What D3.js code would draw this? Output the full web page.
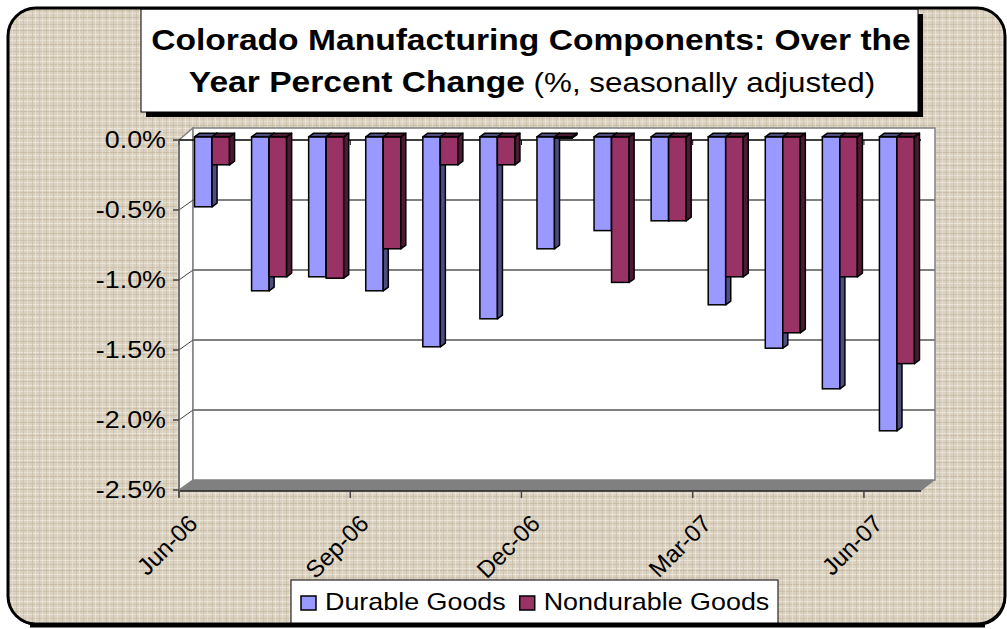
<!DOCTYPE html>
<html>
<head>
<meta charset="utf-8">
<script src="https://cdn.jsdelivr.net/npm/d3@7"></script>
<style>
body{margin:0;background:#fff;}
text{font-family:Arial,"Liberation Sans",sans-serif;}
</style>
</head>
<body>
<div id="svgContainer"></div>
<script>
// data (percent change over the year)
var months = ["Jun-06","Jul-06","Aug-06","Sep-06","Oct-06","Nov-06","Dec-06","Jan-07","Feb-07","Mar-07","Apr-07","May-07","Jun-07"];
var durable = [-0.5,-1.1,-1.0,-1.1,-1.5,-1.3,-0.8,-0.67,-0.6,-1.2,-1.51,-1.8,-2.1];
var nondurable = [-0.2,-1.0,-1.01,-0.8,-0.2,-0.2,-0.01,-1.04,-0.6,-1.0,-1.4,-1.0,-1.62];
var seriesNames = ["Durable Goods","Nondurable Goods"];
var yTicks = [0,-0.5,-1,-1.5,-2,-2.5];
var xTickLabels = ["Jun-06","Sep-06","Dec-06","Mar-07","Jun-07"];

var svgWidth = 1007, svgHeight = 629;
var svg = d3.select("#svgContainer").append("svg")
    .attr("width",svgWidth)
    .attr("height",svgHeight);

var plot = {left:179,right:921,top:140,bottom:490};
var depth = {dx:14,dy:-10};        // front plane -> back wall
var barZ = [0.32,0.68];             // bars sit in the middle of the depth
var front = ["#9999ff","#993366"];
var side = ["#4d4d80","#4d1a33"];
var sx = 1.12;                      // the original text is a bit wide

// linen background
var defs = svg.append("defs");
var pat = defs.append("pattern")
    .attr("id","linen")
    .attr("patternUnits","userSpaceOnUse")
    .attr("width",30).attr("height",27);
pat.append("rect").attr("width",30).attr("height",27).attr("fill","#dad1c0");
var hl = [[1,"#efeadf"],[3,"#c4b8a2"],[7,"#f1ede3"],[10,"#c7bca6"],[13,"#ebe5d8"],[17,"#c2b6a0"],[20,"#eee9de"],[24,"#c9beaa"]];
var vl = [[2,"#c3b7a1"],[5,"#f0ebe1"],[9,"#c8bda8"],[12,"#ece6da"],[16,"#c4b9a3"],[19,"#efeadf"],[23,"#c6bba5"],[27,"#ebe5d9"]];
hl.forEach(function(d){
  pat.append("rect").attr("x",0).attr("y",d[0]).attr("width",30).attr("height",1).attr("fill",d[1]).attr("opacity",0.75);
});
vl.forEach(function(d){
  pat.append("rect").attr("x",d[0]).attr("y",0).attr("width",1).attr("height",27).attr("fill",d[1]).attr("opacity",0.6);
});

// frame
svg.append("rect")
    .attr("x",9).attr("y",10).attr("width",997).attr("height",616)
    .attr("rx",28).attr("fill","#000");
svg.append("rect")
    .attr("x",8).attr("y",8).attr("width",997).attr("height",616)
    .attr("rx",28).attr("fill","url(#linen)");

function stretched(x,y){
  return "translate("+[x,y]+") scale("+sx+",1)";
}

// title
svg.append("rect").attr("x",146).attr("y",14).attr("width",777).attr("height",103).attr("fill","#000");
svg.append("rect").attr("x",141).attr("y",9).attr("width",777).attr("height",103)
    .attr("fill","#fff").attr("stroke","#000").attr("stroke-width",1);
svg.append("text")
    .attr("transform",stretched(531,50))
    .attr("text-anchor","middle")
    .attr("font-size",30).attr("font-weight","bold")
    .text("Colorado Manufacturing Components: Over the");
var t2 = svg.append("text")
    .attr("transform",stretched(532,92))
    .attr("text-anchor","middle")
    .attr("font-size",30);
t2.append("tspan").attr("font-weight","bold").text("Year Percent Change");
t2.append("tspan").attr("font-size",28).text(" (%, seasonally adjusted)");

// scales
var y = d3.scaleLinear().domain([-2.5,0]).range([plot.bottom,plot.top]);
var x = d3.scaleBand().domain(months).range([plot.left,plot.right]).padding(0);
var xs = d3.scaleBand().domain(seriesNames).range([0,x.bandwidth()]).paddingInner(0).paddingOuter(0.63);

// walls
var wallTop = y(0)+depth.dy-2;
svg.append("polygon")
    .attr("points",[[plot.left,y(0)],[plot.left+depth.dx,wallTop],[plot.left+depth.dx,y(-2.5)+depth.dy],[plot.left,y(-2.5)]].join(" "))
    .attr("fill","#fff").attr("stroke","#808080").attr("stroke-width",1.5);
svg.append("rect")
    .attr("x",plot.left+depth.dx).attr("y",wallTop)
    .attr("width",plot.right-plot.left).attr("height",y(-2.5)+depth.dy-wallTop)
    .attr("fill","#fff").attr("stroke","#808080").attr("stroke-width",1.5);

// gridlines on the back wall and left wall
svg.selectAll(".grid").data(yTicks.slice(1,5)).enter().append("line")
    .attr("class","grid")
    .attr("x1",plot.left+depth.dx).attr("x2",plot.right+depth.dx)
    .attr("y1",function(d){return y(d)+depth.dy;})
    .attr("y2",function(d){return y(d)+depth.dy;})
    .attr("stroke","#808080").attr("stroke-width",2);
svg.selectAll(".sgrid").data(yTicks.slice(1,5)).enter().append("line")
    .attr("class","sgrid")
    .attr("x1",plot.left).attr("x2",plot.left+depth.dx)
    .attr("y1",function(d){return y(d);})
    .attr("y2",function(d){return y(d)+depth.dy;})
    .attr("stroke","#444").attr("stroke-width",1);

// floor
svg.append("polygon")
    .attr("points",[[plot.left,y(-2.5)+1],[plot.left+depth.dx,y(-2.5)+depth.dy],[plot.right+depth.dx,y(-2.5)+depth.dy],[plot.right,y(-2.5)+1]].join(" "))
    .attr("fill","#808080");
svg.append("line")
    .attr("x1",plot.left).attr("x2",plot.right)
    .attr("y1",y(-2.5)+1).attr("y2",y(-2.5)+1)
    .attr("stroke","#222").attr("stroke-width",1.5);

// zero line with category ticks
svg.append("line")
    .attr("x1",plot.left).attr("x2",plot.right)
    .attr("y1",y(0)).attr("y2",y(0))
    .attr("stroke","#000").attr("stroke-width",1.5);
svg.selectAll(".ztick").data(xTickLabels).enter().append("line")
    .attr("class","ztick")
    .attr("x1",function(d){return x(d);}).attr("x2",function(d){return x(d);})
    .attr("y1",y(0)).attr("y2",y(0)+5)
    .attr("stroke","#000").attr("stroke-width",1);

// y axis
svg.append("line")
    .attr("x1",plot.left).attr("x2",plot.left)
    .attr("y1",y(0)).attr("y2",y(-2.5)+7)
    .attr("stroke","#666").attr("stroke-width",1.5);
svg.selectAll(".ytick").data(yTicks).enter().append("line")
    .attr("class","ytick")
    .attr("x1",plot.left-6).attr("x2",plot.left)
    .attr("y1",function(d){return y(d);}).attr("y2",function(d){return y(d);})
    .attr("stroke","#444").attr("stroke-width",1.5);
svg.selectAll(".ylab").data(yTicks).enter().append("text")
    .attr("class","ylab")
    .attr("transform",function(d){return stretched(plot.left-13,y(d));})
    .attr("dy",".35em")
    .attr("text-anchor","end")
    .attr("font-size",24)
    .text(function(d){return (d<0?"-":"")+Math.abs(d).toFixed(1)+"%";});

// x axis ticks and rotated labels
svg.selectAll(".xtick").data(xTickLabels).enter().append("line")
    .attr("class","xtick")
    .attr("x1",function(d){return x(d);}).attr("x2",function(d){return x(d);})
    .attr("y1",y(-2.5)+1).attr("y2",y(-2.5)+8)
    .attr("stroke","#444").attr("stroke-width",1.5);
svg.selectAll(".xlab").data(xTickLabels).enter().append("text")
    .attr("class","xlab")
    .attr("text-anchor","end")
    .attr("dy",".35em")
    .attr("font-size",24)
    .attr("transform",function(d){
        return "translate("+[x(d)+14,y(-2.5)+29]+") rotate(-45)";})
    .text(function(d){return d;});

// 3D bars
var off = {dx:depth.dx*barZ[0],dy:depth.dy*barZ[0]};
var bd = {dx:depth.dx*(barZ[1]-barZ[0]),dy:depth.dy*(barZ[1]-barZ[0])};
var bars = [];
months.forEach(function(m,i){
  bars.push({m:m,s:0,v:durable[i]});
  bars.push({m:m,s:1,v:nondurable[i]});
});
var g = svg.selectAll(".bar").data(bars).enter().append("g").attr("class","bar");
function bx(d){return x(d.m)+xs(seriesNames[d.s])+off.dx;}
var w = xs.bandwidth();
g.append("rect")
    .attr("x",bx)
    .attr("y",y(0)+off.dy)
    .attr("width",w)
    .attr("height",function(d){return y(d.v)-y(0);})
    .attr("fill",function(d){return front[d.s];})
    .attr("stroke","#000").attr("stroke-width",1.5);
g.append("polygon")
    .attr("points",function(d){
        var x0 = bx(d)+w, y0 = y(0)+off.dy, y1 = y(d.v)+off.dy;
        return [[x0,y0],[x0+bd.dx,y0+bd.dy],[x0+bd.dx,y1+bd.dy],[x0,y1]].join(" ");})
    .attr("fill",function(d){return side[d.s];})
    .attr("stroke","#000").attr("stroke-width",1.5).attr("stroke-linejoin","round");
g.append("polygon")
    .attr("points",function(d){
        var x0 = bx(d), y0 = y(0)+off.dy;
        return [[x0,y0],[x0+bd.dx,y0+bd.dy],[x0+w+bd.dx,y0+bd.dy],[x0+w,y0]].join(" ");})
    .attr("fill",function(d){return side[d.s];})
    .attr("stroke","#000").attr("stroke-width",1.5).attr("stroke-linejoin","round");

// legend
svg.append("rect")
    .attr("x",291).attr("y",580).attr("width",487).attr("height",46)
    .attr("fill","#fff").attr("stroke","#000").attr("stroke-width",1);
var lx = 301;
seriesNames.forEach(function(n,i){
  svg.append("rect")
      .attr("x",lx).attr("y",596).attr("width",15).attr("height",14)
      .attr("fill",front[i]).attr("stroke","#000").attr("stroke-width",1.5);
  var t = svg.append("text")
      .attr("transform",stretched(lx+24,610))
      .attr("font-size",24)
      .text(n);
  lx = lx+24+t.node().getComputedTextLength()*sx+14;
});

// frame border on top
svg.append("rect")
    .attr("x",8).attr("y",8).attr("width",997).attr("height",616)
    .attr("rx",28).attr("fill","none")
    .attr("stroke","#000").attr("stroke-width",3);
svg.append("line")
    .attr("x1",30).attr("x2",985).attr("y1",626).attr("y2",626)
    .attr("stroke","#000").attr("stroke-width",3);
</script>
</body>
</html>
